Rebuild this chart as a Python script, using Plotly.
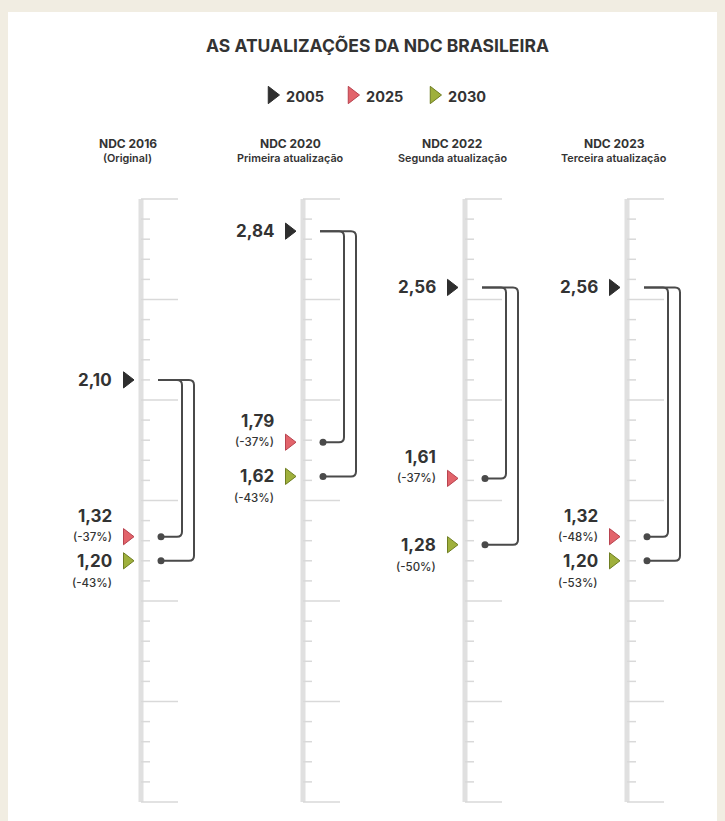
import plotly.graph_objects as go

# ---- data ----------------------------------------------------------------
columns = ["NDC 2016", "NDC 2020", "NDC 2022", "NDC 2023"]
subtitles = ["(Original)", "Primeira atualização", "Segunda atualização", "Terceira atualização"]
base_2005 = [2.10, 2.84, 2.56, 2.56]
target_2025 = [1.32, 1.79, 1.61, 1.32]
target_2030 = [1.20, 1.62, 1.28, 1.20]
cut_2025 = ["(-37%)", "(-37%)", "(-37%)", "(-48%)"]
cut_2030 = ["(-43%)", "(-43%)", "(-50%)", "(-53%)"]
legend_years = ["2005", "2025", "2030"]
scale_max = 3.0
scale_step = 0.1

# ---- layout constants -----------------------------------------------------
W, H = 725, 821
PX_PER_UNIT = 201.0
ZERO_PX = 802.0
Y_TOP = ZERO_PX / PX_PER_UNIT
Y_BOTTOM = -(H - ZERO_PX) / PX_PER_UNIT
RULER_X0 = 141
RULER_GAP = 162

DARK = "#2e2e2e"
TEXT = "#333333"
RULER = "#e0e0e0"
TICK = "#d9d9d9"
LINE = "#4a4a4a"
FILL = {"2005": DARK, "2025": "#e2646b", "2030": "#9fb03c"}
EDGE = {"2005": DARK, "2025": "#b8434f", "2030": "#6f7e22"}
FONT = "Inter"


def px(n):
    """Convert a pixel distance into value units on the y axis."""
    return n / PX_PER_UNIT


def fmt(v):
    return f"{v:.2f}".replace(".", ",")


def paper_y(py):
    return 1 - py / H


fig = go.Figure()
shapes = []
annotations = []

# beige frame around the white panel
frame = "#f1ede2"
for x0, y0, x1, y1 in [(0, 0, 8, H), (W - 8, 0, W, H), (0, 0, W, 12)]:
    shapes.append(dict(type="rect", xref="paper", yref="paper",
                       x0=x0 / W, x1=x1 / W, y0=paper_y(y1), y1=paper_y(y0),
                       fillcolor=frame, line=dict(width=0), layer="below"))

n_ticks = int(round(scale_max / scale_step))
for i, name in enumerate(columns):
    rx = RULER_X0 + i * RULER_GAP

    # ruler spine
    shapes.append(dict(type="line", xref="x", yref="y", x0=rx, x1=rx,
                       y0=0, y1=scale_max, line=dict(color=RULER, width=5),
                       layer="below"))
    # ruler ticks
    tx, ty = [], []
    for k in range(n_ticks + 1):
        v = k * scale_step
        length = 37 if k % 5 == 0 else 9
        tx += [rx, rx + length, None]
        ty += [v, v, None]
    fig.add_trace(go.Scatter(x=tx, y=ty, mode="lines", hoverinfo="skip",
                             line=dict(color=TICK, width=1.5), showlegend=False))

    v05, v25, v30 = base_2005[i], target_2025[i], target_2030[i]

    # bracket connectors with rounded corners
    start, dot_x = rx + 17, rx + 20
    r = 5
    for vx, vt in [(rx + 41, v25), (rx + 53, v30)]:
        path = (f"M {start},{v05} L {vx - r},{v05} "
                f"Q {vx},{v05} {vx},{v05 - px(r)} "
                f"L {vx},{vt + px(r)} "
                f"Q {vx},{vt} {vx - r},{vt} L {dot_x},{vt}")
        shapes.append(dict(type="path", xref="x", yref="y", path=path,
                           line=dict(color=LINE, width=2)))
    fig.add_trace(go.Scatter(x=[dot_x, dot_x], y=[v25, v30], mode="markers",
                             hoverinfo="skip", showlegend=False,
                             marker=dict(color=LINE, size=7)))

    # triangle markers
    for yr, v in zip(legend_years, [v05, v25, v30]):
        fig.add_trace(go.Scatter(x=[rx - 14], y=[v], mode="markers",
                                 hoverinfo="skip", showlegend=False,
                                 marker=dict(symbol="triangle-right", size=14,
                                             color=FILL[yr],
                                             line=dict(color=EDGE[yr], width=1))))

    lx = rx - 27
    big = dict(family=FONT, size=17, color=TEXT, weight=700)
    small = dict(family=FONT, size=11.5, color=TEXT, weight=500)
    annotations += [
        dict(x=lx, y=v05, text=fmt(v05), font=big),
        dict(x=lx, y=v25 + px(21), text=fmt(v25), font=big),
        dict(x=lx, y=v25, text=cut_2025[i], font=small),
        dict(x=lx, y=v30, text=fmt(v30), font=big),
        dict(x=lx, y=v30 - px(22), text=cut_2030[i], font=small),
    ]

    # column headers
    cx = (rx - 13) / W
    annotations += [
        dict(xref="paper", yref="paper", x=cx, y=paper_y(143), text=name,
             xanchor="center", font=dict(family=FONT, size=12, color=TEXT, weight=700)),
        dict(xref="paper", yref="paper", x=cx, y=paper_y(158), text=subtitles[i],
             xanchor="center", font=dict(family=FONT, size=10.8, color=TEXT, weight=600)),
    ]

for a in annotations:
    a.setdefault("xref", "x")
    a.setdefault("yref", "y")
    a.setdefault("xanchor", "right")
    a["yanchor"] = "middle"
    a["showarrow"] = False

# title
annotations.append(dict(xref="paper", yref="paper", x=378 / W, y=paper_y(45),
                        text="AS ATUALIZAÇÕES DA NDC BRASILEIRA", showarrow=False,
                        xanchor="center", yanchor="middle",
                        font=dict(family=FONT, size=17.5, color=TEXT, weight=700)))

# legend row
legend_x = [272, 352, 434]
for yr, lx in zip(legend_years, legend_x):
    fig.add_trace(go.Scatter(x=[lx], y=[Y_TOP - px(95)], mode="markers",
                             hoverinfo="skip", showlegend=False,
                             marker=dict(symbol="triangle-right", size=15,
                                         color=FILL[yr],
                                         line=dict(color=EDGE[yr], width=1))))
    annotations.append(dict(xref="x", yref="paper", x=lx + 12, y=paper_y(96),
                            text=yr, showarrow=False, xanchor="left",
                            yanchor="middle",
                            font=dict(family=FONT, size=14.5, color=TEXT, weight=700)))

fig.update_layout(
    width=W, height=H,
    margin=dict(l=0, r=0, t=0, b=0),
    paper_bgcolor="white", plot_bgcolor="white",
    xaxis=dict(range=[0, W], visible=False, fixedrange=True),
    yaxis=dict(range=[Y_BOTTOM, Y_TOP], visible=False, fixedrange=True),
    shapes=shapes, annotations=annotations, showlegend=False,
)

fig.write_html("out.html")
